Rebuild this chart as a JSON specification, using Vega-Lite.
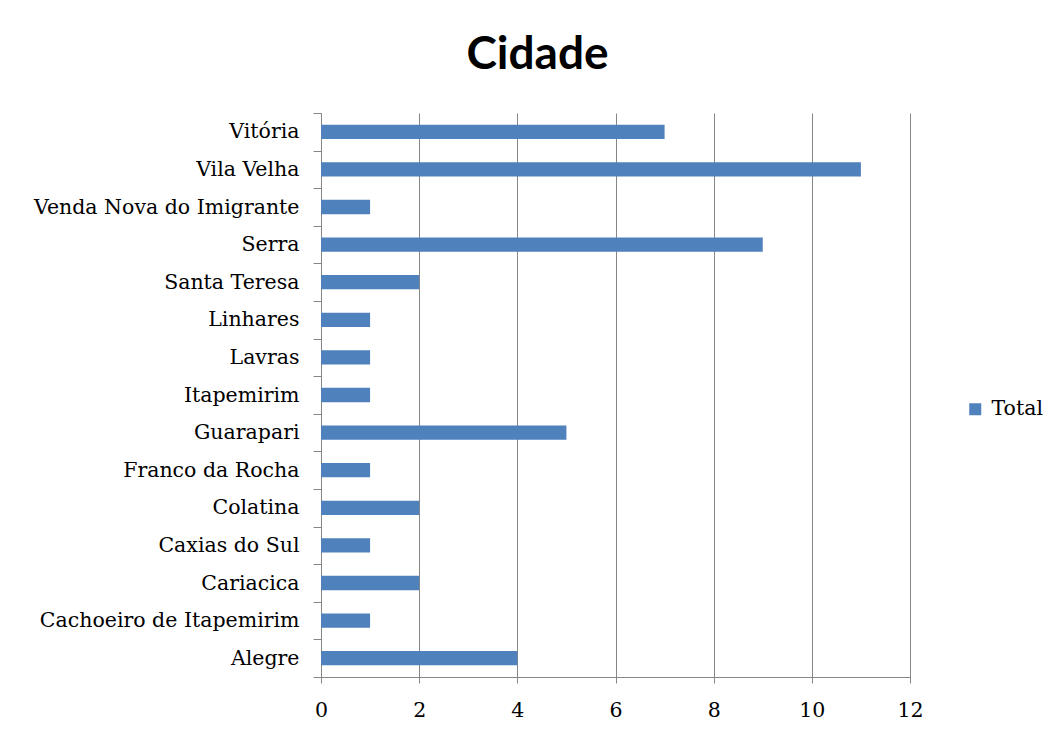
{
  "$schema": "https://vega.github.io/schema/vega-lite/v6.json",
  "autosize": {"type": "none"},
  "width": 589,
  "height": 564,
  "padding": {"left": 321, "top": 113, "right": 143, "bottom": 56},
  "background": "white",
  "title": {
    "text": "Cidade",
    "font": "Lato",
    "fontWeight": "bold",
    "fontSize": 46,
    "color": "#000000",
    "anchor": "middle",
    "dx": -78,
    "offset": 24
  },
  "data": {
    "values": [
      {"Cidade": "Vitória", "Total": 7},
      {"Cidade": "Vila Velha", "Total": 11},
      {"Cidade": "Venda Nova do Imigrante", "Total": 1},
      {"Cidade": "Serra", "Total": 9},
      {"Cidade": "Santa Teresa", "Total": 2},
      {"Cidade": "Linhares", "Total": 1},
      {"Cidade": "Lavras", "Total": 1},
      {"Cidade": "Itapemirim", "Total": 1},
      {"Cidade": "Guarapari", "Total": 5},
      {"Cidade": "Franco da Rocha", "Total": 1},
      {"Cidade": "Colatina", "Total": 2},
      {"Cidade": "Caxias do Sul", "Total": 1},
      {"Cidade": "Cariacica", "Total": 2},
      {"Cidade": "Cachoeiro de Itapemirim", "Total": 1},
      {"Cidade": "Alegre", "Total": 4}
    ]
  },
  "transform": [{"calculate": "'Total'", "as": "Serie"}],
  "mark": {"type": "bar", "color": "#4F81BD", "height": {"band": 0.38}},
  "encoding": {
    "y": {
      "field": "Cidade",
      "type": "nominal",
      "sort": null,
      "scale": {"paddingInner": 0, "paddingOuter": 0},
      "axis": {
        "title": null,
        "tickBand": "extent",
        "tickSize": 8,
        "tickColor": "#868686",
        "domainColor": "#868686",
        "labelPadding": 14,
        "labelFont": "DejaVu Serif",
        "labelFontSize": 20.5,
        "labelColor": "#000000",
        "labelLimit": 0,
        "grid": false
      }
    },
    "x": {
      "field": "Total",
      "type": "quantitative",
      "scale": {"domain": [0, 12], "nice": false},
      "axis": {
        "title": null,
        "values": [0, 2, 4, 6, 8, 10, 12],
        "grid": true,
        "gridColor": "#868686",
        "tickSize": 6,
        "tickColor": "#868686",
        "domainColor": "#868686",
        "labelPadding": 17,
        "labelFont": "DejaVu Serif",
        "labelFontSize": 20.5,
        "labelColor": "#000000",
        "labelFlush": false
      }
    },
    "fill": {
      "field": "Serie",
      "type": "nominal",
      "scale": {"range": ["#4F81BD"]},
      "legend": {
        "title": null,
        "orient": "none",
        "legendX": 644,
        "legendY": 286,
        "symbolType": "square",
        "symbolSize": 144,
        "symbolStrokeWidth": 0,
        "labelFont": "DejaVu Serif",
        "labelFontSize": 20.5,
        "labelColor": "#000000",
        "labelOffset": 6
      }
    }
  },
  "config": {"view": {"stroke": null}}
}
